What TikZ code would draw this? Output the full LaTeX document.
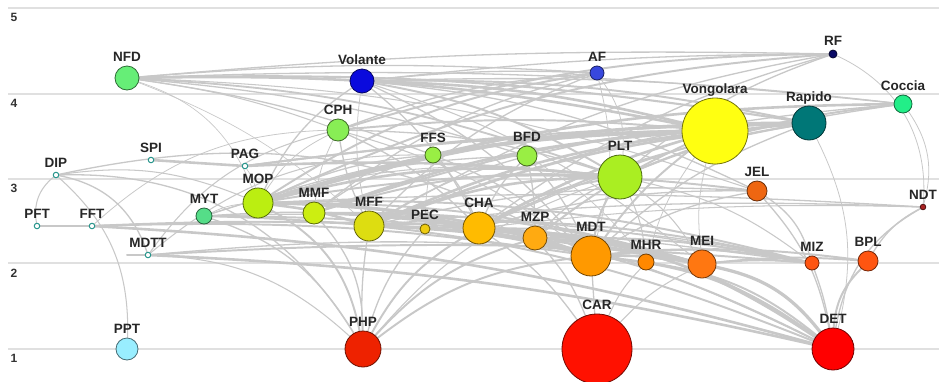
\documentclass[tikz,border=0pt]{standalone}
\usepackage{fontspec}
\setmainfont{Liberation Sans}
\usetikzlibrary{backgrounds}
\tikzset{
  nd/.style={circle, inner sep=0pt, line width=0.8pt},
  lbl/.style={font=\bfseries\fontsize{13.5}{14}\selectfont, inner sep=1.5pt, text height=9.6pt, text depth=2.6pt, text=black!85},
  edge/.style={draw={rgb,255:red,200;green,200;blue,200}, line cap=round},
  grid/.style={draw=black!12, line width=1.1pt},
  axl/.style={font=\bfseries\fontsize{12}{12}\selectfont, text=black!80, inner sep=0pt}
}
\begin{document}
\begin{tikzpicture}[x=1pt,y=-1pt]
\useasboundingbox (0,0) rectangle (939,381);
% nodes (name / x / y / radius / fill)
\foreach \n/\x/\y/\r/\c in {
 NFD/127/78/12/66EE77, Volante/362/81/12/0A0ADD, AF/597/73/7/3848DD, RF/833/54/4/0A0A66,
 Coccia/903/104/9/22EE88, Vongolara/715/131/33/FFFF11, Rapido/809/123/17/007777,
 CPH/338/130/11/88EE55, FFS/433/155/8/99EE44, BFD/527/156/10/99EE44, PLT/620/177/22/AAEE22,
 JEL/757/191/10/EE6611, NDT/923/207/2.8/AA2222,
 MYT/204/216/8/55DD88, MOP/258/203/15/BBEE11, MMF/314/213/11/CCEE11, MFF/369/226/15/DDDD11,
 PEC/425/229/5/EECC11, CHA/479/228/16/FFBB00, MZP/535/238/12/FFAA11, MDT/591/256/20/FF9900,
 MHR/646/262/8/FF8800, MEI/702/264/14/FF7711, MIZ/812/263/7/FF5511, BPL/868/261/10/FF5511,
 PPT/127/349/11/99EEFF, PHP/363/349/18/EE2200, CAR/597/349/35/FF1100, DET/833/349/21/FF0000}
{
  \definecolor{tmpc}{HTML}{\c}
  \node[nd, minimum size=2*\r pt, fill=tmpc, draw=tmpc!45!black, label={[lbl]above:\n}] (\n) at (\x,\y) {};
}
\foreach \n/\x/\y in {SPI/151/160, DIP/56/175, PAG/245/166, PFT/37/226, FFT/92/226, MDTT/148/255}
{
  \node[nd, minimum size=5.5pt, fill=white, draw={rgb,255:red,40;green,150;blue,140}, line width=1pt, label={[lbl]above:\n}] (\n) at (\x,\y) {};
}
\coordinate (mdttl) at (127,255);
\begin{pgfonlayer}{background}
\fill[white] (0,0) rectangle (939,381);
\foreach \yy in {8,94,179,263,349} { \draw[grid] (8,\yy) -- (939,\yy); }
\foreach \t/\yy in {5/17,4/103,3/188,2/273,1/358} { \node[axl] at (14,\yy) {\t}; }
\draw[edge, line width=2pt] (mdttl) -- (MDTT);
\foreach \a/\b/\w/\bb in {
 NFD/Vongolara/2/6, NFD/Rapido/1.6/5, NFD/PLT/1.4/8, NFD/Coccia/1/4, NFD/RF/1/3, NFD/AF/1/4,
 NFD/MOP/0.5/25, NFD/BFD/1/6, NFD/FFS/1/6, NFD/CPH/0.8/6, NFD/JEL/0.8/8, NFD/MFF/0.5/10,
 Volante/Vongolara/2/6, Volante/Rapido/1.5/6, Volante/PLT/1.5/10, Volante/RF/1/3, Volante/AF/1/4,
 Volante/Coccia/1/4, Volante/MDT/1/12, Volante/JEL/1/10, Volante/CHA/1/12, Volante/MEI/0.8/10,
 MOP/Volante/1/15, MFF/Volante/0.6/10,
 MOP/AF/1.5/12, MFF/AF/1/12, AF/PLT/0.6/20, AF/MDT/0.6/15, CPH/AF/1/8, MMF/AF/1/12,
 CPH/RF/1.5/8, MOP/RF/1.5/10, MFF/RF/1/10, RF/NDT/0.6/35, PLT/RF/1/10, CHA/RF/1/10,
 Coccia/NDT/0.6/25, MOP/Coccia/2/8, PLT/Coccia/1.5/8, CHA/Coccia/1/8, MFF/Coccia/1/8,
 MOP/Rapido/2.5/8, MFF/Rapido/2/8, CHA/Rapido/1.5/8, PLT/Rapido/1.5/6, MDT/Rapido/1/10,
 MMF/Rapido/1.5/8, Rapido/DET/0.6/20,
 MOP/Vongolara/3/8, MMF/Vongolara/2/8, MFF/Vongolara/2/8, CHA/Vongolara/2/6, MZP/Vongolara/1.5/6,
 MDT/Vongolara/1.5/8, CPH/Vongolara/1.5/5, FFS/Vongolara/1/5, BFD/Vongolara/1.5/5,
 MHR/Vongolara/0.6/10, MEI/Vongolara/0.6/10, MYT/Vongolara/1/8,
 MOP/CPH/0.6/15, MMF/CPH/0.6/10, MFF/CPH/1/8, CPH/PLT/1/8, CPH/CHA/1/10, CPH/MDT/0.8/10,
 PEC/FFS/0.6/5, MOP/FFS/1/10, FFS/CHA/1/10, FFS/MDT/1/10, MMF/FFS/1/10,
 BFD/MZP/1/5, BFD/MDT/1/8, MOP/BFD/1/8, CHA/BFD/1/10, BFD/MHR/0.6/10, MFF/BFD/1/8,
 MOP/PLT/2/10, MFF/PLT/2/10, MDT/PLT/1.5/10, PLT/MHR/0.8/10, PLT/MEI/0.8/12, PLT/MIZ/0.8/12,
 PHP/PLT/0.8/15, CHA/PLT/1.5/10, MMF/PLT/1.5/10, MZP/PLT/1/10,
 SPI/PAG/2/0, PAG/PLT/2/4, PAG/Vongolara/1.5/3, PAG/Rapido/1.5/3, PAG/MOP/0.5/10,
 JEL/DET/1/15, JEL/MIZ/1/20, MOP/JEL/1.5/8, MDT/JEL/1/10, MFF/JEL/1/8, CHA/JEL/1/8,
 MYT/MOP/0.6/10, MYT/MEI/1.5/5, MYT/DET/1.5/10, MYT/MIZ/1/6, MYT/PLT/0.8/12, MYT/CHA/1/6,
 MOP/MFF/2/5, MOP/CHA/2/6, MOP/MDT/2/8, MOP/MEI/1.5/8, MOP/MIZ/1.5/8, MOP/PHP/1.5/25, MOP/DET/1/12,
 MMF/MDT/1.5/6, MMF/MEI/1.5/8, MMF/PHP/1/20, MMF/CHA/1.5/5,
 PHP/MFF/1/5, MFF/MDT/2/6, MFF/MIZ/1.5/8, MFF/DET/1.5/12, MFF/MEI/1.5/6,
 PHP/PEC/1/12, PEC/MDT/1/8,
 PHP/CHA/1.5/15, CHA/MDT/2/6, CHA/DET/2/15, CHA/CAR/1/10, CHA/MEI/2/6, CHA/MIZ/1/6,
 PHP/MZP/1.5/15, MZP/MEI/1.5/6, MZP/DET/1.5/15, MZP/CAR/1/10, MZP/MIZ/1.5/6,
 MDT/CAR/1/0, MDT/DET/2/15, MDT/MEI/2/5, MDT/MIZ/1.5/8, PHP/MDT/1.5/15, MDT/BPL/1.5/6,
 MHR/DET/1.5/15, CAR/MHR/0.8/10, MEI/DET/2.5/20, MEI/MIZ/1.5/5, MEI/BPL/1.5/5, CAR/MEI/0.8/10,
 MIZ/DET/1/5, DET/BPL/1.5/20, DET/NDT/1/25, BPL/NDT/1/15,
 MOP/NDT/1/3, MFF/NDT/1/4, CHA/NDT/0.8/4,
 PFT/FFT/1.5/0, FFT/DET/2/6, FFT/MEI/1.5/6, FFT/MDT/1.5/5, FFT/MIZ/1/5,
 PFT/DIP/0.8/30, DIP/MDTT/1/30, DIP/PPT/0.8/25, DIP/PHP/1/30, DIP/MOP/0.8/15, DIP/MDT/1/20,
 MDTT/DET/2/5, MDTT/MIZ/1.5/4, MDTT/MEI/1/6, MDTT/PHP/0.8/20, MYT/PHP/1/20,
 MDTT/CPH/0.8/20, MDTT/FFS/0.8/20, FFT/CPH/0.6/20}
{
  \draw[edge, line width=1.3*\w pt] (\a) to[bend left=\bb] (\b);
}
\end{pgfonlayer}
\end{tikzpicture}
\end{document}
